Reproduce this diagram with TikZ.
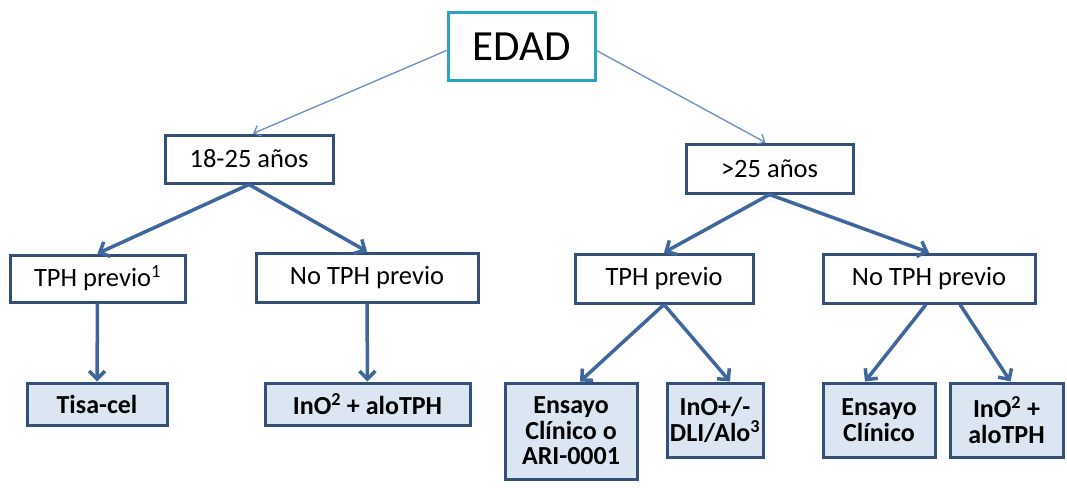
\documentclass[tikz,border=0pt]{standalone}
\usepackage{fontspec}
\setmainfont{Carlito}
\usetikzlibrary{arrows.meta,calc}
\definecolor{boxblue}{RGB}{52,80,120}
\definecolor{linkblue}{RGB}{64,102,158}
\definecolor{thinblue}{RGB}{104,140,196}
\definecolor{edadteal}{RGB}{40,166,192}
\definecolor{endfill}{RGB}{220,230,242}

\begin{document}
\begin{tikzpicture}[x=1pt,y=-1pt,
    box/.style={draw=boxblue, line width=3pt, fill=white, inner sep=0pt,
        align=center, font=\fontsize{26.5}{26}\selectfont},
    endbox/.style={box, fill=endfill, font=\bfseries\fontsize{26}{25.5}\selectfont},
    link/.style={draw=linkblue, line width=3.5pt, -{Straight Barb[length=8pt,width=16pt]}},
    thinlink/.style={draw=thinblue, line width=1.3pt, -{Straight Barb[length=6pt,width=11pt]}}]

    \useasboundingbox (0,0) rectangle (1067,487);

    % Top node
    \node[box, draw=edadteal, minimum width=147pt, minimum height=67pt,
        font=\fontsize{43}{43}\selectfont] (edad) at (521.5,46.5) {EDAD};

    % Age groups
    \node[box, minimum width=168pt, minimum height=48pt] (joven) at (249,159) {18-25 años};
    \node[box, minimum width=167pt, minimum height=49pt] (mayor) at (769.5,168.5) {>25 años};

    % Transplant status
    \node[box, minimum width=175pt, minimum height=47pt] (tphA) at (97.5,278.5) {TPH previo\textsuperscript{1}};
    \node[box, minimum width=222pt, minimum height=49pt] (notphA) at (367,277.5) {No TPH previo};
    \node[box, minimum width=178pt, minimum height=49pt] (tphB) at (664,278.5) {TPH previo};
    \node[box, minimum width=212pt, minimum height=49pt] (notphB) at (929,278.5) {No TPH previo};

    % Treatments
    \node[endbox, minimum width=140pt, minimum height=42pt] (tisa) at (97,404) {Tisa-cel};
    \node[endbox, minimum width=205pt, minimum height=42pt] (inoA) at (367.5,404) {InO\textsuperscript{2} + aloTPH};
    \node[endbox, minimum width=132pt, minimum height=96pt] (ensA) at (571,431) {Ensayo\\Clínico o\\ARI-0001};
    \node[endbox, minimum width=96pt, minimum height=74pt] (inoB) at (715,420) {InO+/-\\DLI/Alo\textsuperscript{3}};
    \node[endbox, minimum width=112pt, minimum height=74pt] (ensB) at (879,420) {Ensayo\\Clínico};
    \node[endbox, minimum width=113pt, minimum height=74pt] (inoC) at (1006.5,420) {InO\textsuperscript{2} +\\aloTPH};

    % Draw thin links from the top
    \draw[thinlink] ($(edad.west)+(0,4)$) -- ($(joven.north)+(4,0)$);
    \draw[thinlink] ($(edad.east)+(0,4)$) -- ($(mayor.north)+(-4,0)$);

    % Draw thick links
    \foreach \a/\b in {joven/tphA, joven/notphA, mayor/tphB, mayor/notphB, tphA/tisa, notphA/inoA} {
        \draw[link] (\a.south) -- (\b.north);
    }
    \draw[link] (tphB.south) -- ($(ensA.north)+(9,0)$);
    \draw[link] (tphB.south) -- ($(inoB.north)+(15,0)$);
    \draw[link] ($(notphB.south)+(-3,0)$) -- ($(ensB.north)+(-14,0)$);
    \draw[link] ($(notphB.south)+(31,0)$) -- ($(inoC.north)+(4,0)$);

\end{tikzpicture}
\end{document}
